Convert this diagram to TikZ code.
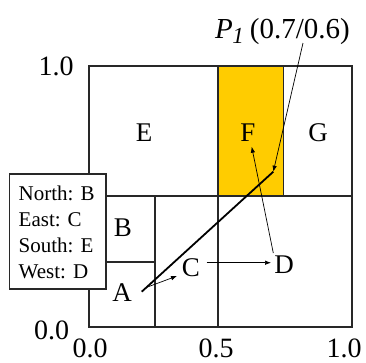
\documentclass[tikz,border=0pt]{standalone}
\usepackage{fontspec}
\setmainfont{Liberation Serif}
\usetikzlibrary{arrows.meta}
\definecolor{cellyellow}{RGB}{255,204,0}
\definecolor{gridline}{RGB}{40,40,40}
\begin{document}
\begin{tikzpicture}[x=1pt,y=-1pt,
  grid/.style={draw=gridline,line width=1.6pt},
  cell/.style={font=\fontsize{27}{27}\selectfont,anchor=base,inner sep=0pt},
  axis/.style={font=\fontsize{28}{28}\selectfont,anchor=base,inner sep=0pt},
  thinarrow/.style={draw=black,line width=0.7pt,-{Latex[length=6pt,width=4.5pt]}},
  pathline/.style={draw=black,line width=1.8pt}]
\useasboundingbox (0,0) rectangle (366,362);
% yellow cell F
\fill[cellyellow] (217.7,66) rectangle (283.3,196);
% grid
\draw[grid] (89,66) rectangle (352,327);
\draw[grid] (89,196) -- (352,196);
\draw[grid] (217.7,66) -- (217.7,327);
\draw[grid] (283.3,66) -- (283.3,196);
\draw[grid] (155,196) -- (155,327);
\draw[grid] (89,261.7) -- (155,261.7);
% legend
\node[draw=gridline,line width=1.6pt,fill=white,minimum width=96.7pt,minimum height=114.7pt,inner sep=0pt] (legend) at (57.7,231.5) {};
\node[anchor=base west,inner sep=0pt,align=left,font=\fontsize{21}{26}\selectfont] (legtext) at (18.5,278) {North: B\\East: C\\South: E\\West: D};
% cell labels
\node[cell] (E) at (144,141.7) {E};
\node[cell] (F) at (248,141.7) {F};
\node[cell] (G) at (318,141.7) {G};
\node[cell] (B) at (123,236.7) {B};
\node[cell] (A) at (122,301.7) {A};
\node[cell] (C) at (191,276) {C};
\node[cell] (D) at (284,273) {D};
% axis labels
\node[axis] (y1) at (56,75) {1.0};
\node[axis] (y0) at (51.5,339) {0.0};
\node[axis] (x0) at (90,357) {0.0};
\node[axis] (x5) at (216,357) {0.5};
\node[axis] (x1) at (344,357) {1.0};
% P1 label
\node[anchor=base west,inner sep=0pt,font=\fontsize{29}{29}\selectfont] (P1lab) at (215,38) {\textit{P}\kern-0.5pt\raisebox{-5pt}{\fontsize{23}{23}\selectfont\textit{1}}\kern6pt(0.7/0.6)};
% points
\coordinate (pA) at (141.7,291.7);
\coordinate (pP) at (273.3,171.7);
\coordinate (aStart) at (146.7,287.3);
\coordinate (aEnd) at (177,276);
\coordinate (cStart) at (206.7,262.7);
\coordinate (cEnd) at (271,262.7);
\coordinate (dStart) at (273.3,253);
\coordinate (dEnd) at (251.7,146.7);
\coordinate (lStart) at (303,43);
% connectors
\draw[pathline] (pA) -- (pP);
\draw[thinarrow] (aStart) -- (aEnd);
\draw[thinarrow] (cStart) -- (cEnd);
\draw[thinarrow] (dStart) -- (dEnd);
\draw[thinarrow] (lStart) -- (pP);
\end{tikzpicture}
\end{document}
